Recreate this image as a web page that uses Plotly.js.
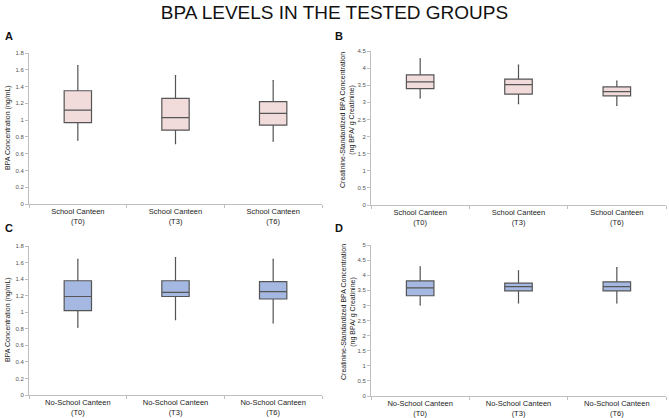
<!DOCTYPE html>
<html>
<head>
<meta charset="utf-8">
<script src="https://cdn.plot.ly/plotly-3.0.1.min.js"></script>
<style>html,body{margin:0;padding:0;background:#fff;}#chart{width:669px;height:418px;}</style>
</head>
<body>
<div id="chart"></div>
<script>
// Categories
var schoolCats = ["School Canteen<br>(T0)", "School Canteen<br>(T3)", "School Canteen<br>(T6)"];
var noSchoolCats = ["No-School Canteen<br>(T0)", "No-School Canteen<br>(T3)", "No-School Canteen<br>(T6)"];

// Panel A: BPA concentration (ng/mL), School Canteen
var aLow = [0.76, 0.72, 0.75];
var aQ1 = [0.97, 0.88, 0.94];
var aMed = [1.12, 1.03, 1.08];
var aQ3 = [1.35, 1.26, 1.22];
var aHigh = [1.65, 1.53, 1.47];

// Panel B: Creatinine-standardized, School Canteen
var bLow = [3.13, 2.96, 2.91];
var bQ1 = [3.40, 3.24, 3.19];
var bMed = [3.60, 3.52, 3.31];
var bQ3 = [3.80, 3.68, 3.45];
var bHigh = [4.27, 4.09, 3.62];

// Panel C: BPA concentration (ng/mL), No-School Canteen
var cLow = [0.82, 0.91, 0.87];
var cQ1 = [1.02, 1.19, 1.16];
var cMed = [1.19, 1.24, 1.25];
var cQ3 = [1.38, 1.38, 1.37];
var cHigh = [1.64, 1.66, 1.64];

// Panel D: Creatinine-standardized, No-School Canteen
var dLow = [3.02, 3.08, 3.08];
var dQ1 = [3.32, 3.48, 3.48];
var dMed = [3.58, 3.62, 3.62];
var dQ3 = [3.81, 3.74, 3.78];
var dHigh = [4.28, 4.14, 4.25];

var pinkFill = "#f2dcdb", blueFill = "#a4b8e1", boxLine = "#555555";

function boxTrace(cats, low, q1, med, q3, high, fill, xa, ya) {
  return {
    type: "box", x: cats, lowerfence: low, q1: q1, median: med, q3: q3, upperfence: high,
    fillcolor: fill, line: {color: boxLine, width: 1.2}, whiskerwidth: 0.05,
    boxpoints: false, hoverinfo: "skip", xaxis: xa, yaxis: ya, showlegend: false
  };
}

var data = [
  boxTrace(schoolCats, aLow, aQ1, aMed, aQ3, aHigh, pinkFill, "x", "y"),
  boxTrace(schoolCats, bLow, bQ1, bMed, bQ3, bHigh, pinkFill, "x2", "y2"),
  boxTrace(noSchoolCats, cLow, cQ1, cMed, cQ3, cHigh, blueFill, "x3", "y3"),
  boxTrace(noSchoolCats, dLow, dQ1, dMed, dQ3, dHigh, blueFill, "x4", "y4")
];

var W = 669, H = 418;
function xd(a, b) { return [a / W, b / W]; }
function yd(top, bottom) { return [1 - bottom / H, 1 - top / H]; }

function xAxis(dom, anchor) {
  return {
    domain: dom, anchor: anchor, type: "category", showgrid: false, zeroline: false,
    showline: true, linecolor: "#bfbfbf", linewidth: 1,
    ticks: "outside", ticklen: 3, tickcolor: "#bfbfbf", tickson: "boundaries",
    tickfont: {family: "Liberation Sans, Arial, sans-serif", size: 7.5, color: "#222"},
    fixedrange: true
  };
}
function yAxis(dom, anchor, maxv, dt) {
  return {
    domain: dom, anchor: anchor, range: [0, maxv], dtick: dt, showgrid: false, zeroline: false,
    showline: true, linecolor: "#bfbfbf", linewidth: 1,
    ticks: "outside", ticklen: 3, tickcolor: "#bfbfbf",
    tickfont: {family: "Liberation Sans, Arial, sans-serif", size: 6, color: "#555"},
    fixedrange: true
  };
}

var axFont = {family: "Liberation Sans, Arial, sans-serif", size: 7, color: "#222"};
var letterFont = {family: "Liberation Sans, Arial, sans-serif", size: 11, color: "#111"};

var layout = {
  width: W, height: H, margin: {l: 0, r: 0, t: 0, b: 0},
  paper_bgcolor: "#fff", plot_bgcolor: "#fff",
  boxgap: 0.6,
  title: {text: "BPA LEVELS IN THE TESTED GROUPS", x: 0.5, xanchor: "center", y: 1 - 12 / H, yanchor: "middle",
          font: {family: "Liberation Sans, Arial, sans-serif", size: 19, color: "#111"}},
  xaxis: xAxis(xd(29, 322), "y"),
  yaxis: yAxis(yd(53, 204), "x", 1.8, 0.2),
  xaxis2: xAxis(xd(371, 666), "y2"),
  yaxis2: yAxis(yd(51, 205), "x2", 4.5, 0.5),
  xaxis3: xAxis(xd(29, 322), "y3"),
  yaxis3: yAxis(yd(246, 395), "x3", 1.8, 0.2),
  xaxis4: xAxis(xd(371, 666), "y4"),
  yaxis4: yAxis(yd(245, 396), "x4", 5, 0.5),
  annotations: [
    {text: "<b>A</b>", xref: "paper", yref: "paper", x: 3 / W, y: 1 - 36 / H, xanchor: "left", yanchor: "middle", showarrow: false, font: letterFont},
    {text: "<b>B</b>", xref: "paper", yref: "paper", x: 333 / W, y: 1 - 36 / H, xanchor: "left", yanchor: "middle", showarrow: false, font: letterFont},
    {text: "<b>C</b>", xref: "paper", yref: "paper", x: 3 / W, y: 1 - 228 / H, xanchor: "left", yanchor: "middle", showarrow: false, font: letterFont},
    {text: "<b>D</b>", xref: "paper", yref: "paper", x: 333 / W, y: 1 - 228 / H, xanchor: "left", yanchor: "middle", showarrow: false, font: letterFont},
    {text: "BPA Concentration (ng/mL)", textangle: -90, xref: "paper", yref: "paper", x: 8 / W, y: 1 - 128 / H, xanchor: "center", yanchor: "middle", showarrow: false, font: axFont},
    {text: "Creatinine-Standardized BPA Concentration<br>(ng BPA/ g Creatinine)", textangle: -90, xref: "paper", yref: "paper", x: 348 / W, y: 1 - 120 / H, xanchor: "center", yanchor: "middle", showarrow: false, font: axFont},
    {text: "BPA Concentration (ng/mL)", textangle: -90, xref: "paper", yref: "paper", x: 8 / W, y: 1 - 320 / H, xanchor: "center", yanchor: "middle", showarrow: false, font: axFont},
    {text: "Creatinine-Standardized BPA Concentration<br>(ng BPA/ g Creatinine)", textangle: -90, xref: "paper", yref: "paper", x: 348 / W, y: 1 - 312 / H, xanchor: "center", yanchor: "middle", showarrow: false, font: axFont}
  ]
};

Plotly.newPlot("chart", data, layout, {staticPlot: true, displayModeBar: false});
</script>
</body>
</html>
